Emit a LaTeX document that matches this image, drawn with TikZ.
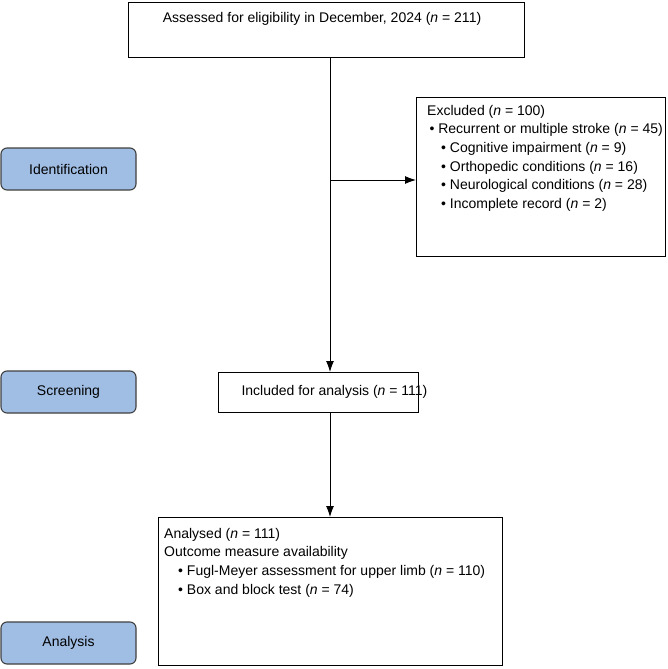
\documentclass[tikz,border=0pt]{standalone}
\usepackage{fontspec}
\setmainfont{Liberation Sans}
\usetikzlibrary{arrows.meta}
\begin{document}
\begin{tikzpicture}[x=1pt,y=-1pt,font=\fontsize{14}{18.6}\selectfont,
  box/.style={draw,line width=0.9pt,anchor=north west,inner sep=0pt},
  stage/.style={draw=black!75,fill={rgb,255:red,160;green,190;blue,228},rounded corners=6pt,line width=1.1pt,minimum width=135pt,minimum height=42pt,inner sep=0pt},
  arr/.style={-{Latex[length=11pt,width=8pt]},line width=0.9pt}]
\useasboundingbox (0,0) rectangle (667,669);
\node[box,minimum width=396pt,minimum height=55pt] (top) at (128,2) {};
\node at (322,19) {Assessed for eligibility in December, 2024 (\textit{n} = 211)};
\node[box,minimum width=249pt,minimum height=159pt] (exc) at (416,97) {};
\node[anchor=north west,align=left,inner sep=0pt] (exct) at (427,105) {Excluded (\textit{n} = 100)\\
\,• Recurrent or multiple stroke (\textit{n} = 45)\\
\quad• Cognitive impairment (\textit{n} = 9)\\
\quad• Orthopedic conditions (\textit{n} = 16)\\
\quad• Neurological conditions (\textit{n} = 28)\\
\quad• Incomplete record (\textit{n} = 2)};
\node[box,minimum width=200pt,minimum height=40pt] (scr) at (218,372) {};
\node[anchor=west] at (238,392) {Included for analysis (\textit{n} = 111)};
\node[box,minimum width=344pt,minimum height=148pt] (ana) at (158,517) {};
\node[anchor=north west,align=left,inner sep=0pt] at (164,528) {Analysed (\textit{n} = 111)\\
Outcome measure availability\\
\quad• Fugl-Meyer assessment for upper limb (\textit{n} = 110)\\
\quad• Box and block test (\textit{n} = 74)};
\node[stage] (s1) at (68.5,169) {Identification};
\node[stage] (s2) at (68.5,392) {Screening};
\node[stage] (s3) at (68.5,643) {Analysis};
\coordinate (b) at (330,180);
\draw[arr] (330,57) -- (330,372);
\draw[arr] (b) -- (416,180);
\draw[arr] (330,412) -- (330,517);
\end{tikzpicture}
\end{document}
